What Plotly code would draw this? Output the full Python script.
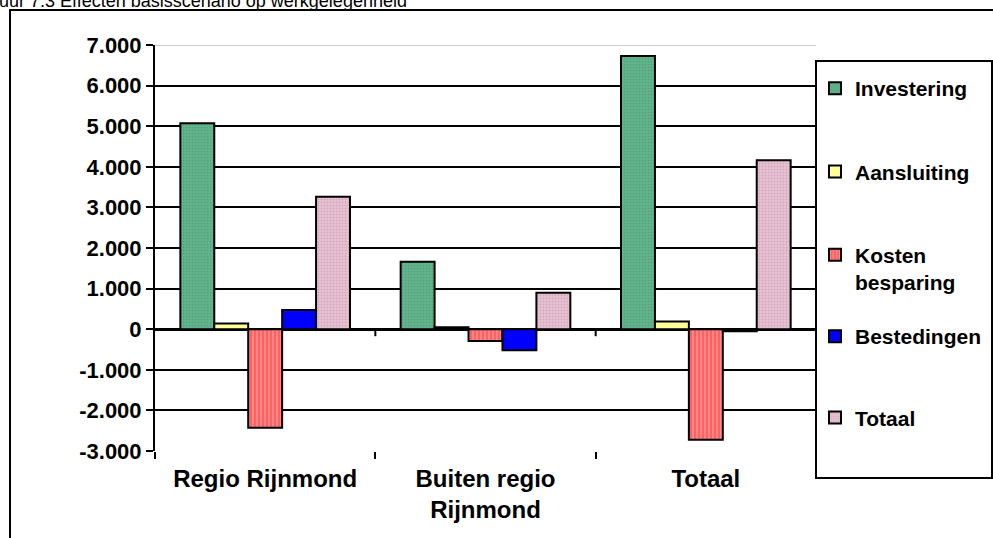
import plotly.graph_objects as go

# Employment effects of the base scenario, by region
categories = ["Regio Rijnmond", "Buiten regio<br>Rijnmond", "Totaal"]
series_names = ["Investering", "Aansluiting", "Kosten<br>besparing", "Bestedingen", "Totaal"]
investering = [5070, 1660, 6730]
aansluiting = [140, 50, 190]
kosten_besparing = [-2430, -290, -2720]
bestedingen = [470, -520, -50]
totaal = [3260, 900, 4160]
y_tick_values = [-3000, -2000, -1000, 0, 1000, 2000, 3000, 4000, 5000, 6000, 7000]
y_tick_labels = ["-3.000", "-2.000", "-1.000", "0", "1.000", "2.000", "3.000",
                 "4.000", "5.000", "6.000", "7.000"]
title_text = "Figuur 7.3 Effecten basisscenario op werkgelegenheid"

W, H = 993, 538
L, R, T, B = 155, 177, 45, 87
PW, PH = W - L - R, H - T - B


def px_x(p):
    return (p - L) / PW


def px_y(p):
    return (H - B - p) / PH


FONT = "Liberation Sans, Arial, sans-serif"

styles = [
    dict(color="#5CAE86", pattern=dict(shape=".", bgcolor="#62B48C", fgcolor="#3E8E66", size=3, solidity=0.25)),
    dict(color="#FFFF99"),
    dict(color="#FF6A6A", pattern=dict(shape="|", bgcolor="#FF6060", fgcolor="#FFD0D0", size=4, solidity=0.35)),
    dict(color="#0000FF"),
    dict(color="#E2B8CC", pattern=dict(shape=".", bgcolor="#E8C2D4", fgcolor="#B88AA2", size=3, solidity=0.3)),
]
values = [investering, aansluiting, kosten_besparing, bestedingen, totaal]
# the legend is split in two blocks of entries so the two-line entry keeps even spacing
legend_ids = ["legend", "legend", "legend", "legend2", "legend2"]

fig = go.Figure()
for name, vals, st, lg in zip(series_names, values, styles, legend_ids):
    marker = dict(color=st["color"], line=dict(color="black", width=2))
    if "pattern" in st:
        marker["pattern"] = st["pattern"]
    fig.add_trace(go.Bar(x=categories, y=vals, name=name, legendgroup=name,
                         legend=lg, marker=marker))

shapes = []
# small tick marks on the zero line at the category boundaries
for b in range(1, len(categories)):
    shapes.append(dict(type="line", xref="x", yref="y", x0=b - 0.5, x1=b - 0.5,
                       ysizemode="pixel", yanchor=0, y0=0, y1=-7,
                       line=dict(color="black", width=2)))
# light top border of the plot area
shapes.append(dict(type="line", xref="paper", yref="y", x0=0, x1=1,
                   y0=y_tick_values[-1], y1=y_tick_values[-1],
                   line=dict(color="#BDBDBD", width=1.5), layer="above"))
# legend frame
shapes.append(dict(type="rect", xref="paper", yref="paper",
                   x0=px_x(816), x1=px_x(992), y0=px_y(478), y1=px_y(61),
                   line=dict(color="black", width=2), fillcolor="rgba(0,0,0,0)"))
# outer chart frame
shapes.append(dict(type="rect", xref="paper", yref="paper",
                   x0=px_x(10), x1=px_x(1010), y0=px_y(560), y1=px_y(10),
                   line=dict(color="black", width=2), fillcolor="rgba(0,0,0,0)"))

legend_font = dict(family=FONT, size=21, color="black", weight="bold")
fig.update_layout(
    width=W, height=H,
    margin=dict(l=L, r=R, t=T, b=B, pad=0, autoexpand=False),
    paper_bgcolor="white", plot_bgcolor="white",
    barmode="group", bargap=0.23, bargroupgap=0,
    font=dict(family=FONT, size=21, color="black", weight="bold"),
    showlegend=True,
    legend=dict(x=px_x(815), xanchor="left", y=px_y(68), yanchor="top",
                bgcolor="rgba(0,0,0,0)", borderwidth=0,
                tracegroupgap=53, valign="top", font=legend_font),
    legend2=dict(x=px_x(815), xanchor="left", y=px_y(316), yanchor="top",
                 bgcolor="rgba(0,0,0,0)", borderwidth=0,
                 tracegroupgap=51, valign="top", font=legend_font),
    shapes=shapes,
    annotations=[dict(text=title_text, xref="paper", yref="paper",
                      x=px_x(409), y=px_y(13), xanchor="right", yanchor="bottom",
                      showarrow=False,
                      font=dict(family=FONT, size=18, color="black", weight="normal"))],
)
fig.update_xaxes(type="category", showgrid=False, showline=False, zeroline=False,
                 ticks="outside", tickson="boundaries", ticklen=7, tickwidth=2,
                 tickcolor="black", ticklabelstandoff=11,
                 tickfont=dict(family=FONT, size=24, color="black", weight="bold"))
fig.update_yaxes(range=[y_tick_values[0], y_tick_values[-1]],
                 tickmode="array", tickvals=y_tick_values, ticktext=y_tick_labels,
                 showgrid=True, gridcolor="black", gridwidth=2,
                 zeroline=True, zerolinecolor="black", zerolinewidth=3,
                 showline=True, linecolor="black", linewidth=2,
                 ticks="outside", ticklen=7, tickwidth=2, tickcolor="black",
                 tickfont=dict(family=FONT, size=22, color="black", weight="bold"))

fig.write_html("out.html")
